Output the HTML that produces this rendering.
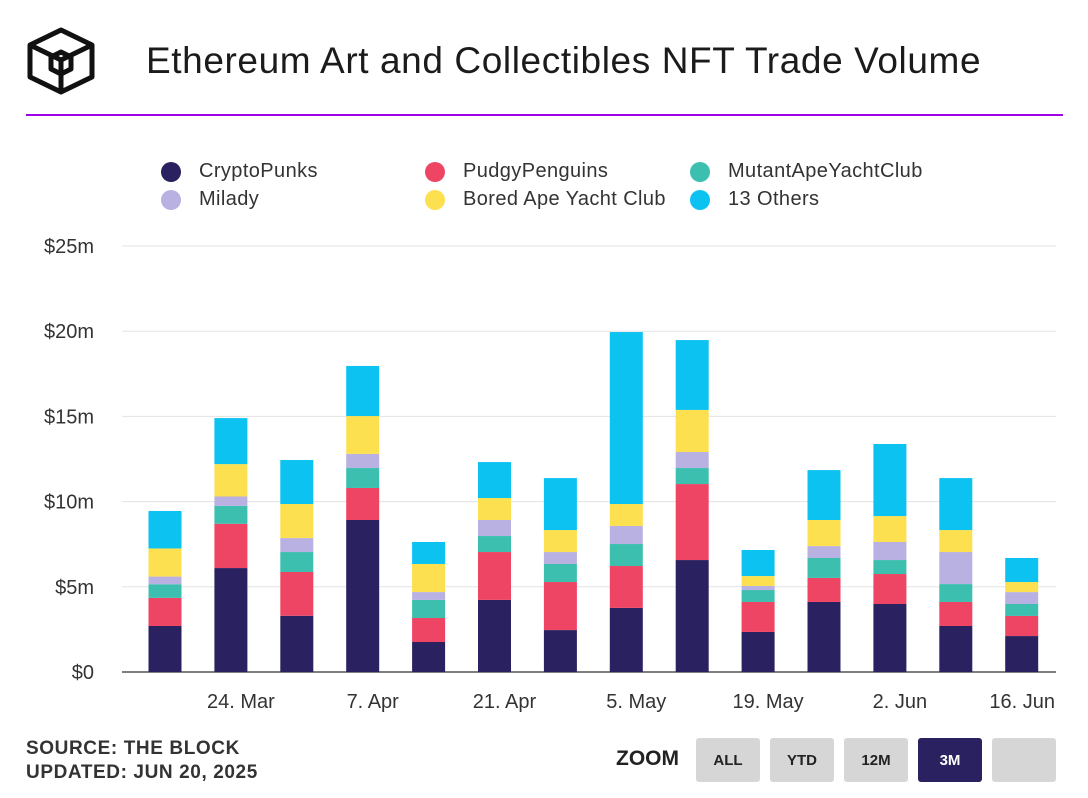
<!DOCTYPE html>
<html><head><meta charset="utf-8"><style>
body{margin:0;background:#fff;font-family:"Liberation Sans",sans-serif;}
#root{position:relative;width:1088px;height:798px;overflow:hidden;background:#fff;}
.title{position:absolute;left:146px;top:40px;font-size:37px;letter-spacing:0.6px;color:#1b1b1b;white-space:nowrap;}
.rule{position:absolute;left:26px;top:114px;width:1037px;height:2px;background:#a100e6;}
.leg{position:absolute;font-size:20px;letter-spacing:0.4px;color:#333;display:flex;align-items:center;white-space:nowrap;}
.leg i{display:inline-block;width:20px;height:20px;border-radius:50%;margin-right:18px;}
.src{position:absolute;left:26px;top:737px;font-size:19px;letter-spacing:0.6px;font-weight:bold;color:#333;line-height:24px;}
.zoom{position:absolute;left:616px;top:747px;font-size:21px;font-weight:bold;color:#222;}
.btn{position:absolute;top:738px;height:44px;width:64px;background:#d6d6d6;border-radius:3px;font-size:15px;font-weight:bold;color:#222;display:flex;align-items:center;justify-content:center;}
</style></head><body>
<div id="root">
<svg style="position:absolute;left:26px;top:26px" width="70" height="70">
<g fill="none" stroke="#111" stroke-width="5" stroke-linejoin="round">
<polygon points="35,4 66,19 66,51 35,66 4,51 4,19"/>
<polyline points="4,19 35,34 66,19"/><line x1="35" y1="34" x2="35" y2="66"/>
<polygon points="35,26 45,31 45,43 35,48 25,43 25,31"/>
</g></svg>
<div class="title">Ethereum Art and Collectibles NFT Trade Volume</div>
<div class="rule"></div>
<div class="leg" style="left:161px;top:160px"><i style="background:#2a2160"></i>CryptoPunks</div>
<div class="leg" style="left:161px;top:188px"><i style="background:#b9b1e2"></i>Milady</div>
<div class="leg" style="left:425px;top:160px"><i style="background:#ef4565"></i>PudgyPenguins</div>
<div class="leg" style="left:425px;top:188px"><i style="background:#fde04f"></i>Bored Ape Yacht Club</div>
<div class="leg" style="left:690px;top:160px"><i style="background:#3cbfae"></i>MutantApeYachtClub</div>
<div class="leg" style="left:690px;top:188px"><i style="background:#0cc2f0"></i>13 Others</div>
<svg id="plot" style="position:absolute;left:0;top:0" width="1088" height="730"></svg>
<div class="src">SOURCE: THE BLOCK<br>UPDATED: JUN 20, 2025</div>
<div class="zoom">ZOOM</div>
<div class="btn" style="left:696px">ALL</div>
<div class="btn" style="left:770px">YTD</div>
<div class="btn" style="left:844px">12M</div>
<div class="btn" style="left:918px;background:#2a2160;color:#fff">3M</div>
<div class="btn" style="left:992px"></div>
</div>
<script>
const cryptoPunks=[2.7,6.1,3.3,8.92,1.76,4.23,2.46,3.76,6.57,2.35,4.11,3.99,2.7,2.11];
const pudgyPenguins=[1.65,2.6,2.57,1.88,1.41,2.81,2.82,2.46,4.46,1.76,1.41,1.76,1.41,1.18];
const mutantApe=[0.8,1.05,1.17,1.17,1.06,0.94,1.06,1.29,0.94,0.7,1.17,0.82,1.05,0.7];
const milady=[0.45,0.55,0.82,0.83,0.46,0.94,0.7,1.06,0.94,0.24,0.7,1.06,1.88,0.7];
const bayc=[1.65,1.9,2.0,2.22,1.65,1.29,1.29,1.29,2.47,0.58,1.53,1.52,1.29,0.59];
const others=[2.2,2.7,2.58,2.94,1.29,2.11,3.05,10.09,4.1,1.53,2.93,4.23,3.05,1.41];
const yTicks=[0,5,10,15,20,25];
const yTickLabels=["$0","$5m","$10m","$15m","$20m","$25m"];
const xLabels=["24. Mar","7. Apr","21. Apr","5. May","19. May","2. Jun","16. Jun"];
const xLabelBarIdx=[1,3,5,7,9,11,13];
const series=[cryptoPunks,pudgyPenguins,mutantApe,milady,bayc,others];
const names=["cryptopunks","pudgypenguins","mutantape","milady","bayc","others"];
const colors=["#2a2160","#ef4565","#3cbfae","#b9b1e2","#fde04f","#0cc2f0"];
const NS="http://www.w3.org/2000/svg",svg=document.getElementById('plot');
const y=v=>672-v*17.04, x=i=>165+i*65.9, bw=33;
function mk(t,a){const e=document.createElementNS(NS,t);for(const k in a)e.setAttribute(k,a[k]);svg.appendChild(e);return e;}
yTicks.forEach((t,i)=>{
 const l=mk('line',{x1:122,x2:1056,y1:y(t),y2:y(t),stroke:t===0?'#555':'#e3e3e3','stroke-width':t===0?1.5:1});
 
 
 const tx=mk('text',{x:94,y:y(t)+7,'text-anchor':'end','font-size':20,fill:'#333','font-family':'Liberation Sans'});
 tx.textContent=yTickLabels[i];
 
 
});
for(let i=0;i<cryptoPunks.length;i++){
 let base=0;
 series.forEach((s,k)=>{
  const r=mk('rect',{x:x(i)-bw/2,y:y(base+s[i]),width:bw,height:s[i]*17.04,fill:colors[k]});
  
  
  base+=s[i];
 });
}
xLabels.forEach((s,i)=>{
 let cx=x(xLabelBarIdx[i])+10; let anchor='middle';
 if(cx>1020){cx=1055;anchor='end';}
 const t=mk('text',{x:cx,y:708,'text-anchor':anchor,'font-size':20,fill:'#333','font-family':'Liberation Sans'});
 t.textContent=s;
 
 
});
</script>
</body></html>
